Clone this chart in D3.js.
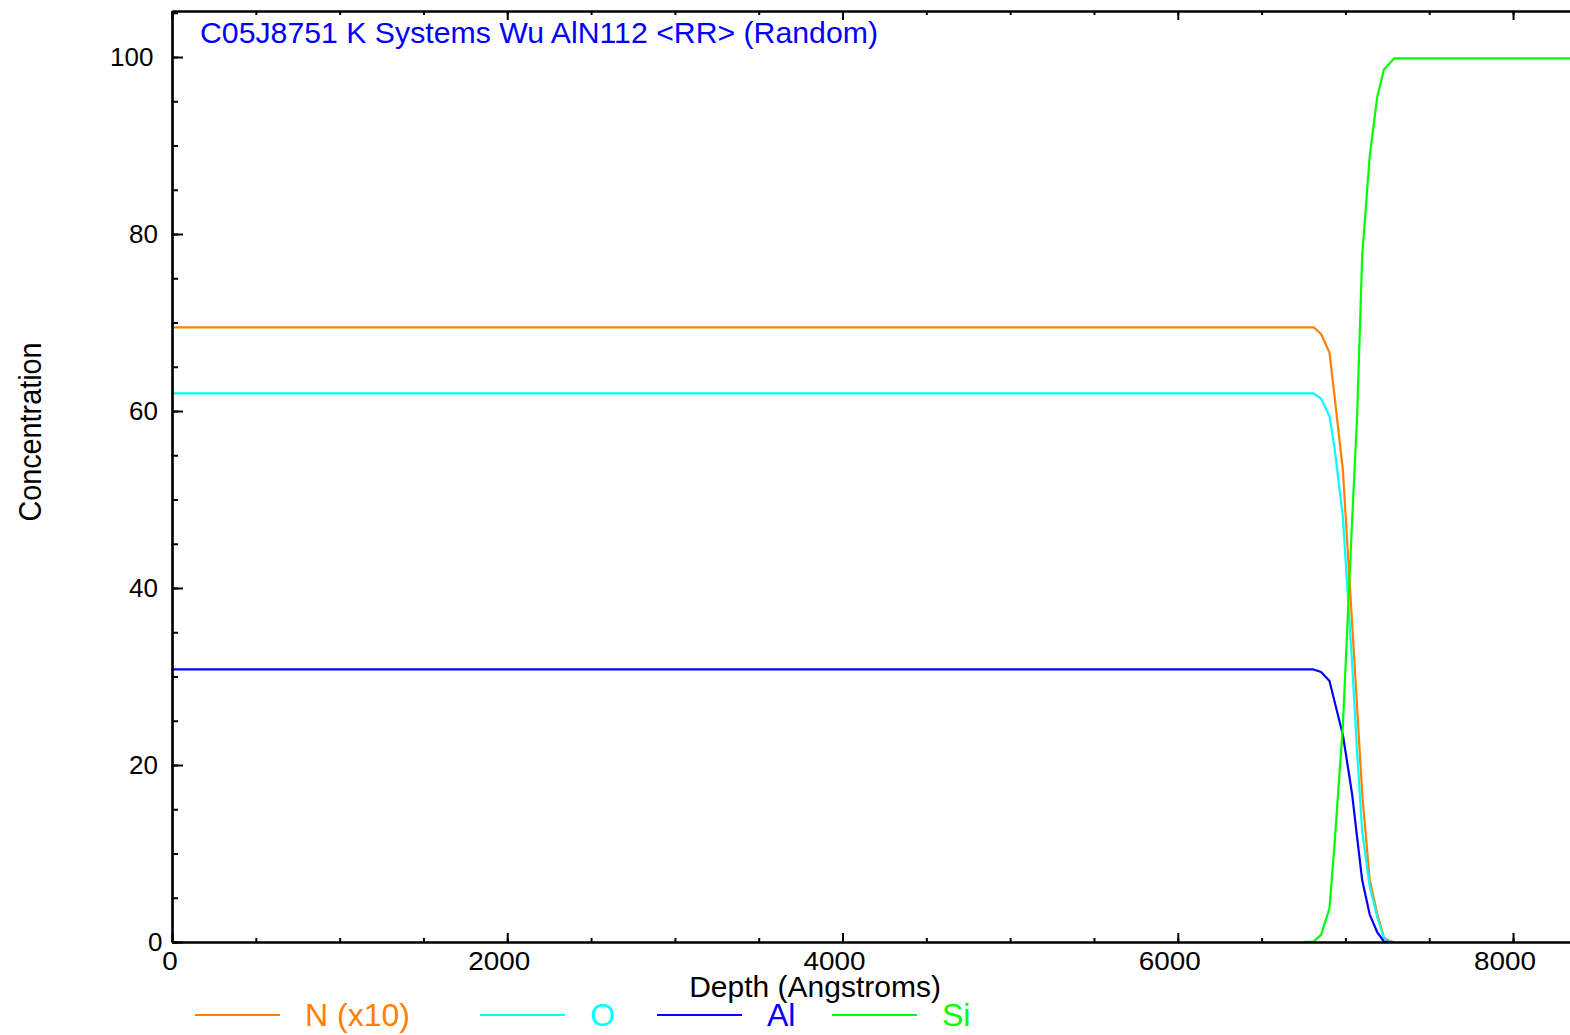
<!DOCTYPE html>
<html>
<head>
<meta charset="utf-8">
<script src="https://cdn.jsdelivr.net/npm/d3@7"></script>
<style>
  html, body { margin: 0; padding: 0; background: #fff; }
  svg { display: block; font-family: "Liberation Sans", Arial, sans-serif; }
</style>
</head>
<body>
<svg id="chart" width="1570" height="1035"></svg>
<script>
// ---- data ----
const depth      = [0, 6750, 6810, 6855, 6905, 6935, 6985, 7040, 7070, 7100, 7145, 7190, 7230, 7265, 7290, 8500];
const nitrogenX10= [69.46, 69.46, 69.46, 68.7, 66.6, 61.7, 53.3, 36.0, 26.5, 16.8, 7.0, 3.2, 0.5, 0.1, 0, null];
const oxygen     = [62.0, 62.0, 62.0, 61.4, 59.4, 55.8, 48.0, 31.5, 21.4, 12.5, 6.3, 2.8, 0.4, 0.05, 0, null];
const aluminum   = [30.8, 30.8, 30.8, 30.5, 29.5, 27.2, 23.4, 16.7, 11.8, 7.0, 3.1, 1.1, 0.05, 0, null, null];
const silicon    = [null, 0, 0.05, 0.8, 3.8, 11.0, 24.5, 47.6, 59.5, 77.5, 88.8, 95.5, 98.6, 99.3, 99.85, 99.85];

const seriesNames  = ["N (x10)", "O", "Al", "Si"];
const seriesColors = ["#FF8000", "#00FFFF", "#0000FF", "#00FF00"];
const seriesValues = [nitrogenX10, oxygen, aluminum, silicon];

const xTickLabels = [0, 2000, 4000, 6000, 8000];
const xMinorTicks = d3.range(0, 8401, 500);
const yTickLabels = [0, 20, 40, 60, 80, 100];
const yMinorTicks = d3.range(0, 105.1, 5);

const titleText = "C05J8751 K Systems Wu AlN112 <RR> (Random)";
const xTitle = "Depth (Angstroms)";
const yTitle = "Concentration";

// ---- layout ----
const svg = d3.select("#chart");
svg.append("rect").attr("width", 1570).attr("height", 1035).attr("fill", "#fff");

const x = d3.scaleLinear().domain([0, 8400]).range([172, 172 + 8400 * 0.16763]);
const y = d3.scaleLinear().domain([0, 105.2]).range([942, 11]);

// ---- series lines ----
const line = d3.line()
  .defined(d => d[1] !== null)
  .x(d => x(d[0]))
  .y(d => y(d[1]));

seriesValues.forEach((vals, i) => {
  const pts = depth.map((dd, j) => [dd, vals[j]]);
  svg.append("path")
    .datum(pts)
    .attr("fill", "none")
    .attr("stroke", seriesColors[i])
    .attr("stroke-width", 2.2)
    .attr("stroke-linejoin", "round")
    .attr("d", line);
});

// ---- axes ----
function styleAxis(g) {
  g.selectAll("path.domain").attr("stroke", "#000").attr("stroke-width", 2.2);
  g.selectAll(".tick line").attr("stroke", "#000").attr("stroke-width", 2);
  g.selectAll(".tick text").remove();
}

// bottom
svg.append("g").attr("transform", `translate(0,${y(0)})`)
  .call(d3.axisBottom(x).tickValues(xMinorTicks).tickSizeInner(-4).tickSizeOuter(0).tickFormat(""))
  .call(styleAxis);
svg.append("g").attr("transform", `translate(0,${y(0)})`)
  .call(d3.axisBottom(x).tickValues(xTickLabels).tickSizeInner(-9).tickSizeOuter(0).tickFormat(""))
  .call(styleAxis);
// top
svg.append("g").attr("transform", `translate(0,${y(105.2)})`)
  .call(d3.axisTop(x).tickValues(xMinorTicks).tickSizeInner(-4).tickSizeOuter(0).tickFormat(""))
  .call(styleAxis);
svg.append("g").attr("transform", `translate(0,${y(105.2)})`)
  .call(d3.axisTop(x).tickValues(xTickLabels).tickSizeInner(-9).tickSizeOuter(0).tickFormat(""))
  .call(styleAxis);
// left
svg.append("g").attr("transform", `translate(${x(0)},0)`)
  .call(d3.axisLeft(y).tickValues(yMinorTicks).tickSizeInner(-6).tickSizeOuter(0).tickFormat(""))
  .call(styleAxis);
svg.append("g").attr("transform", `translate(${x(0)},0)`)
  .call(d3.axisLeft(y).tickValues(yTickLabels).tickSizeInner(-11).tickSizeOuter(0).tickFormat(""))
  .call(styleAxis);

// ---- tick labels ----
svg.append("g").selectAll("text").data(xTickLabels).join("text")
  .attr("x", d => x(d) - 9.75 * String(d).length)
  .attr("y", 970)
  .attr("font-size", 26)
  .attr("textLength", d => 15.5 * String(d).length)
  .attr("lengthAdjust", "spacingAndGlyphs")
  .attr("fill", "#000")
  .text(d => d);

svg.append("g").selectAll("text").data(yTickLabels).join("text")
  .attr("x", d => 167 - 19 * String(d).length)
  .attr("y", d => y(d) + 9)
  .attr("font-size", 26)
  .attr("fill", "#000")
  .text(d => d);

// ---- titles ----
svg.append("text")
  .attr("x", 200).attr("y", 43)
  .attr("font-size", 30)
  .attr("textLength", 678)
  .attr("lengthAdjust", "spacingAndGlyphs")
  .attr("fill", "#0000FF")
  .text(titleText);

svg.append("text")
  .attr("x", 815).attr("y", 997)
  .attr("text-anchor", "middle")
  .attr("font-size", 30)
  .attr("fill", "#000")
  .text(xTitle);

svg.append("text")
  .attr("transform", "translate(41,432) rotate(-90)")
  .attr("text-anchor", "middle")
  .attr("font-size", 31)
  .attr("textLength", 179)
  .attr("lengthAdjust", "spacingAndGlyphs")
  .attr("fill", "#000")
  .text(yTitle);

// ---- legend ----
const legendStarts = [195, 480, 657, 832];
const legend = svg.append("g");
seriesNames.forEach((name, i) => {
  const lx = legendStarts[i];
  legend.append("line")
    .attr("x1", lx).attr("x2", lx + 85)
    .attr("y1", 1015).attr("y2", 1015)
    .attr("stroke", seriesColors[i]).attr("stroke-width", 2.2);
  legend.append("text")
    .attr("x", lx + 110).attr("y", 1026)
    .attr("font-size", 32)
    .attr("fill", seriesColors[i])
    .text(name);
});
</script>
</body>
</html>
